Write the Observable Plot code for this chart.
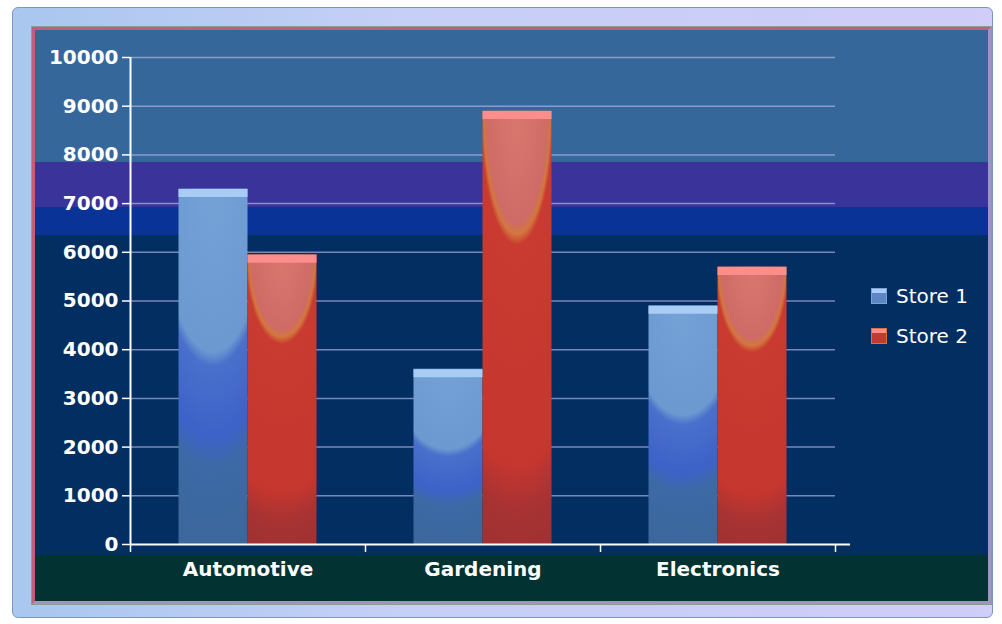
<!DOCTYPE html>
<html><head><meta charset="utf-8">
<script src="https://cdn.jsdelivr.net/npm/d3@7"></script>
<script src="https://cdn.jsdelivr.net/npm/@observablehq/plot@0.6"></script>
<style>
html,body{margin:0;padding:0;background:#fff;width:1002px;height:624px;overflow:hidden;position:relative}
#frame{position:absolute;left:12px;top:7px;width:981px;height:611px;box-sizing:border-box;
  background:linear-gradient(to right,#a9c7ef,#c6cff6 40%,#d0cdf8);border:1px solid #7f93c4;border-radius:6px}
#chart{position:absolute;left:32px;top:27px;width:953px;height:571px;
  border-top:3px solid #c55c7c;border-left:3px solid #c55c7c;border-right:3px solid #9d95c4;border-bottom:3px solid #9d95c4;
  outline:1px solid #8c9c98}
#chart svg{display:block}
#legend{position:absolute;left:871px;top:276px;font-family:"DejaVu Sans",sans-serif;font-size:20px;color:#fff}
#legend .row{display:flex;align-items:center;height:40px}
#legend .sw{width:16px;height:16px;margin-right:9px;box-sizing:border-box}
</style>
</head><body>
<div id="frame"></div>
<div id="chart"></div>
<div id="legend"></div>
<script>
const categories = ["Automotive", "Gardening", "Electronics"];
const seriesNames = ["Store 1", "Store 2"];
const store1 = [7300, 3600, 4900];
const store2 = [5950, 8900, 5700];
const yTicks = [0, 1000, 2000, 3000, 4000, 5000, 6000, 7000, 8000, 9000, 10000];

const rows1 = categories.map((c, i) => ({i, category: c, store: seriesNames[0], v: store1[i]}));
const rows2 = categories.map((c, i) => ({i, category: c, store: seriesNames[1], v: store2[i]}));
const bw = 69 / 235; // bar width as fraction of a category slot
const n = categories.length;

const svg = Plot.plot({
  width: 953,
  height: 571,
  marginLeft: 95,
  marginRight: 138,
  marginTop: 27,
  marginBottom: 57,
  style: {color: "#fff", fontFamily: "DejaVu Sans, sans-serif", fontSize: "20px", background: "transparent", overflow: "visible"},
  x: {domain: [0, n], range: [95, 800], axis: null},
  y: {domain: [yTicks[0], yTicks[yTicks.length - 1]], axis: null},
  marks: [
    Plot.ruleY(yTicks.slice(1), {x1: 0, x2: n, stroke: "#b8b8e6", strokeOpacity: 0.65, strokeWidth: 1.5}),
    Plot.rectY(rows1, {x1: d => d.i + 0.5 - bw, x2: d => d.i + 0.5, y1: 0, y2: d => d.v, fill: "url(#g1)"}),
    Plot.rectY(rows2, {x1: d => d.i + 0.5, x2: d => d.i + 0.5 + bw, y1: 0, y2: d => d.v, fill: "url(#g2)"}),
    Plot.ruleY(rows1, {x1: d => d.i + 0.5 - bw, x2: d => d.i + 0.5, y: d => d.v, stroke: "#a8ccf4", strokeWidth: 8, dy: 4}),
    Plot.ruleY(rows2, {x1: d => d.i + 0.5, x2: d => d.i + 0.5 + bw, y: d => d.v, stroke: "#fb8d8d", strokeWidth: 8, dy: 4}),
    Plot.ruleY([0], {stroke: "#fff", strokeWidth: 2}),
    Plot.ruleX([0], {y1: yTicks[0], y2: yTicks[yTicks.length - 1], stroke: "#fff", strokeWidth: 2}),
    Plot.axisY(yTicks, {anchor: "left", tickSize: 8, tickPadding: 4, tickFormat: d => String(d), stroke: "#fff", strokeWidth: 1.5, fontWeight: "bold", fontSize: 20, label: null}),
    Plot.axisX(d3.range(n + 1), {anchor: "bottom", tickSize: 8, tickFormat: () => "", stroke: "#fff", strokeWidth: 1.5, label: null}),
    Plot.axisX(categories.map((c, i) => i + 0.5), {anchor: "bottom", tickSize: 0, tickPadding: 17, tickFormat: d => categories[Math.floor(d)], fontWeight: "bold", fontSize: 20, label: null})
  ]
});

// background bands of the plot area
svg.style.background = "linear-gradient(to bottom, #36679a 0px, #36679a 132px, #39339a 132px, #39339a 177px, #0a3398 177px, #0a3398 205px, #022e62 205px, #022e62 525px, #023232 525px, #023232 571px)";

const defs = d3.select(svg).insert("defs", ":first-child");
function radial(id, stops) {
  const g = defs.append("radialGradient").attr("id", id)
    .attr("cx", 0.5).attr("cy", 0).attr("fx", 0.5).attr("fy", 0).attr("r", 1)
    .attr("gradientTransform", "translate(0.5,0) scale(1.7,1) translate(-0.5,0)");
  stops.forEach(([o, c]) => g.append("stop").attr("offset", o).attr("stop-color", c));
}
radial("g1", [[0, "#74a1d6"], [0.46, "#6c99d0"], [0.5, "#4a70cc"], [0.7, "#3d62c8"], [0.78, "#3d6aa6"], [1, "#3b679c"]]);
radial("g2", [[0, "#d9786f"], [0.26, "#cf6b66"], [0.285, "#d3773e"], [0.31, "#c93a30"], [0.82, "#c5362f"], [0.92, "#a83333"], [1, "#a23232"]]);

document.getElementById("chart").appendChild(svg);

// legend
const swatches = [
  "linear-gradient(to bottom, #a8ccf4 0 4px, #5d86c2 4px 100%)",
  "linear-gradient(to bottom, #fb8d8d 0 4px, #c23a31 4px 100%)"
];
const borders = ["1px solid #7da2d8", "1px solid #d87040"];
const legend = document.getElementById("legend");
seriesNames.forEach((s, k) => {
  const row = document.createElement("div");
  row.className = "row";
  const sw = document.createElement("div");
  sw.className = "sw";
  sw.style.background = swatches[k];
  sw.style.border = borders[k];
  const t = document.createElement("span");
  t.textContent = s;
  row.appendChild(sw);
  row.appendChild(t);
  legend.appendChild(row);
});
</script>
</body></html>
